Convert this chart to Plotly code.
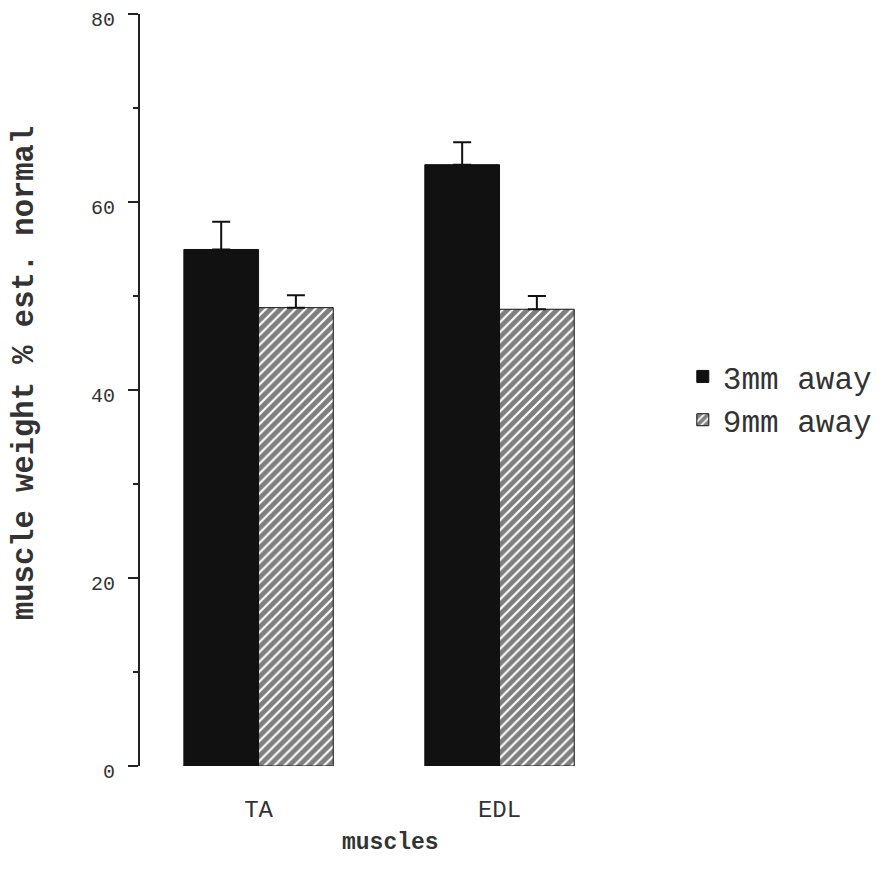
import plotly.graph_objects as go

categories = ["TA", "EDL"]
series_names = ["3mm away", "9mm away"]
values_3mm = [54.95, 63.97]
err_3mm = [2.95, 2.39]
values_9mm = [48.76, 48.59]
err_9mm = [1.31, 1.41]
y_ticks = [0, 20, 40, 60, 80]
x_title = "muscles"
y_title = "muscle weight % est. normal"

FONT = "Liberation Mono, Courier New, monospace"
TXT = "#333333"

fig = go.Figure()
fig.add_trace(go.Bar(
    name=series_names[0], x=categories, y=values_3mm,
    marker=dict(color="#111111", line=dict(color="#111111", width=1)),
    error_y=dict(type="data", array=err_3mm, arrayminus=[0, 0], symmetric=False,
                 color="#111111", thickness=2, width=9),
))
fig.add_trace(go.Bar(
    name=series_names[1], x=categories, y=values_9mm,
    marker=dict(color="white", line=dict(color="#111111", width=1),
                pattern=dict(shape="/", fgcolor="#000000", bgcolor="white",
                             size=7, solidity=0.7)),
    error_y=dict(type="data", array=err_9mm, arrayminus=[0, 0], symmetric=False,
                 color="#111111", thickness=2, width=9),
))

fig.update_layout(
    width=885, height=886,
    margin=dict(l=132, r=293, t=6, b=128),
    paper_bgcolor="white", plot_bgcolor="white",
    barmode="group", bargap=0.38, bargroupgap=0,
    font=dict(family=FONT, color=TXT),
    showlegend=True,
    legend=dict(x=1.180, y=0.489, xanchor="left", yanchor="middle",
                font=dict(family=FONT, size=31, color=TXT),
                bgcolor="rgba(0,0,0,0)", tracegroupgap=0),
    xaxis=dict(
        range=[-0.492, 1.417], showline=False, ticks="", showgrid=False,
        zeroline=False, automargin=False,
        tickfont=dict(family=FONT, size=24, color=TXT),
        ticklabelstandoff=26,
    ),
    yaxis=dict(
        range=[0, 80], tickvals=y_ticks, showline=True, linecolor="#222222", linewidth=2,
        ticks="outside", ticklen=10, tickwidth=2, tickcolor="#222222",
        minor=dict(dtick=10, ticks="outside", ticklen=5, tickwidth=2, tickcolor="#222222"),
        showgrid=False, zeroline=False, automargin=False, ticklabeloverflow="allow",
        tickfont=dict(family=FONT, size=20, color=TXT), ticklabelstandoff=9,
        ticklabelshift=5,
    ),
    annotations=[
        dict(text=x_title, xref="paper", yref="paper", x=(390 - 140) / 460,
             y=-(843 - 766) / 752, xanchor="center", yanchor="middle", showarrow=False,
             font=dict(family=FONT, size=23, color=TXT, weight="bold")),
        dict(text=y_title, xref="paper", yref="paper", x=(25 - 140) / 460,
             y=(766 - 373) / 752, xanchor="center", yanchor="middle", showarrow=False,
             textangle=-90, font=dict(family=FONT, size=30.5, color=TXT, weight="bold")),
    ],
)

fig.write_html("out.html")
